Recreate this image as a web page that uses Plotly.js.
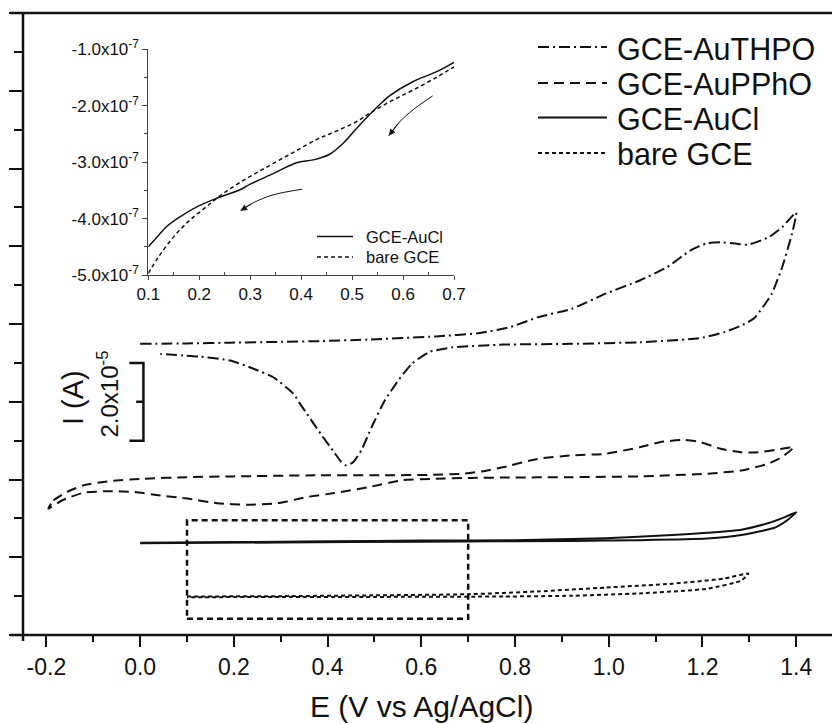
<!DOCTYPE html>
<html>
<head>
<meta charset="utf-8">
<script src="https://cdn.plot.ly/plotly-3.0.1.min.js"></script>
<style>html,body{margin:0;padding:0;background:#fff;}#chart{width:832px;height:724px;}</style>
</head>
<body>
<div id="chart"></div>
<script>
// ---- Main CV data (E in V vs Ag/AgCl, I in units of 1e-5 A, arbitrary offset) ----
const thpoE = [0, 0.1, 0.192, 0.3, 0.384, 0.486, 0.631, 0.725, 0.79, 0.848, 0.921, 0.993, 1.066, 1.124, 1.174, 1.21, 1.239, 1.27, 1.297, 1.341, 1.37, 1.4,
  1.391, 1.37, 1.348, 1.334, 1.312, 1.29, 1.247, 1.196, 1.066, 0.921, 0.776, 0.667, 0.617, 0.58, 0.551, 0.522, 0.494, 0.472, 0.455, 0.44, 0.428, 0.414, 0.385, 0.356, 0.341, 0.327, 0.284, 0.242, 0.192, 0.128, 0.043];
const thpoI = [7.49, 7.50, 7.52, 7.54, 7.56, 7.60, 7.68, 7.77, 7.92, 8.17, 8.39, 8.78, 9.12, 9.46, 9.89, 10.08, 10.10, 10.07, 10.04, 10.23, 10.49, 10.87,
  10.32, 9.46, 8.78, 8.52, 8.17, 8.0, 7.79, 7.64, 7.53, 7.49, 7.47, 7.40, 7.28, 6.98, 6.55, 6.03, 5.35, 4.75, 4.45, 4.36, 4.47, 4.70, 5.18, 5.69, 5.95, 6.21, 6.63, 6.85, 7.06, 7.16, 7.23];

const pphoE = [-0.196, -0.185, -0.156, -0.121, -0.064, 0.007, 0.1, 0.199, 0.384, 0.522, 0.619, 0.689, 0.736, 0.776, 0.848, 0.921, 0.993, 1.066, 1.109, 1.16, 1.196, 1.239, 1.283, 1.319, 1.37, 1.395,
  1.37, 1.341, 1.283, 1.21, 1.066, 0.921, 0.776, 0.704, 0.631, 0.559, 0.486, 0.414, 0.356, 0.341, 0.292, 0.228, 0.164, 0.1, 0.043, -0.014, -0.064, -0.121, -0.167, -0.196];
const pphoI = [3.25, 3.46, 3.68, 3.85, 3.96, 4.02, 4.06, 4.08, 4.11, 4.11, 4.12, 4.15, 4.22, 4.32, 4.53, 4.62, 4.66, 4.83, 4.96, 5.02, 4.96, 4.79, 4.70, 4.70, 4.79, 4.83,
  4.58, 4.41, 4.23, 4.15, 4.08, 4.06, 4.05, 4.04, 4.02, 3.98, 3.80, 3.65, 3.55, 3.51, 3.39, 3.35, 3.39, 3.51, 3.59, 3.68, 3.70, 3.66, 3.46, 3.25];

const auclE = [0, 0.2, 0.4, 0.6, 0.8, 0.993, 1.136, 1.21, 1.283, 1.341, 1.377, 1.4, 1.385, 1.356, 1.283, 1.21, 1.066, 0.921, 0.6, 0.3, 0];
const auclI = [2.37, 2.39, 2.41, 2.43, 2.44, 2.49, 2.57, 2.63, 2.71, 2.88, 3.04, 3.16, 2.99, 2.77, 2.57, 2.48, 2.44, 2.42, 2.40, 2.38, 2.36];

const bareE = [0.1, 0.3, 0.5, 0.704, 0.848, 0.993, 1.136, 1.245, 1.298, 1.283, 1.21, 1.066, 0.921, 0.776, 0.5, 0.3, 0.1];
const bareI = [0.99, 1.0, 1.02, 1.05, 1.12, 1.22, 1.32, 1.45, 1.58, 1.40, 1.19, 1.07, 1.01, 0.99, 0.98, 0.98, 0.97];

// scale bar (2.0x10^-5 A = 2 units) and zoom box
const scaleBarX = [-0.023, 0.007, 0.007, -0.023, null, -0.0085, 0.007];
const scaleBarY = [7, 7, 5, 5, null, 6, 6];
const zoomBoxE = [0.1, 0.7];
const zoomBoxI = [0.42, 2.95];

// ---- Inset data (A) ----
const insetAuclE = [0.1, 0.12, 0.136, 0.162, 0.198, 0.234, 0.28, 0.3, 0.346, 0.391, 0.424, 0.456, 0.482, 0.509, 0.535, 0.56, 0.574, 0.62, 0.665, 0.7];
const insetAuclI = [-4.5e-7, -4.3e-7, -4.14e-7, -3.97e-7, -3.78e-7, -3.64e-7, -3.49e-7, -3.39e-7, -3.20e-7, -3.01e-7, -2.96e-7, -2.86e-7, -2.67e-7, -2.40e-7, -2.15e-7, -1.93e-7, -1.82e-7, -1.57e-7, -1.40e-7, -1.23e-7];
const insetBareE = [0.1, 0.12, 0.15, 0.18, 0.21, 0.24, 0.28, 0.33, 0.384, 0.43, 0.456, 0.509, 0.535, 0.574, 0.62, 0.665, 0.7];
const insetBareI = [-4.97e-7, -4.68e-7, -4.32e-7, -4.04e-7, -3.82e-7, -3.60e-7, -3.36e-7, -3.10e-7, -2.83e-7, -2.60e-7, -2.50e-7, -2.28e-7, -2.13e-7, -1.93e-7, -1.72e-7, -1.50e-7, -1.31e-7];
const arrow1E = [0.658, 0.62, 0.594, 0.572];
const arrow1I = [-1.826e-7, -2.07e-7, -2.28e-7, -2.53e-7];
const arrow2E = [0.402, 0.345, 0.306, 0.281];
const arrow2I = [-3.48e-7, -3.58e-7, -3.72e-7, -3.86e-7];

// ---- Ticks ----
const xTickVals = [-0.2, 0, 0.2, 0.4, 0.6, 0.8, 1.0, 1.2, 1.4];
const xTickText = ['-0.2', '0.0', '0.2', '0.4', '0.6', '0.8', '1.0', '1.2', '1.4'];
const xMinorVals = [-0.1, 0.1, 0.3, 0.5, 0.7, 0.9, 1.1, 1.3];
const insetXVals = [0.1, 0.2, 0.3, 0.4, 0.5, 0.6, 0.7];
const insetXText = ['0.1', '0.2', '0.3', '0.4', '0.5', '0.6', '0.7'];
const insetXMinor = [0.15, 0.25, 0.35, 0.45, 0.55, 0.65];
const insetYVals = [-5e-7, -4e-7, -3e-7, -2e-7, -1e-7];
const insetYText = ['-5.0x10<sup>-7</sup>', '-4.0x10<sup>-7</sup>', '-3.0x10<sup>-7</sup>', '-2.0x10<sup>-7</sup>', '-1.0x10<sup>-7</sup>'];
const insetYMinor = [-4.5e-7, -3.5e-7, -2.5e-7, -1.5e-7];

const seriesNames = ['GCE-AuTHPO', 'GCE-AuPPhO', 'GCE-AuCl', 'bare GCE'];
const insetNames = ['GCE-AuCl', 'bare GCE'];

const FONT = 'Liberation Sans, Arial, Helvetica, sans-serif';
const INK = '#111';
const dashes = ['11px,4px,2px,4px', '10px,6px', 'solid', '4px,3px'];

const traces = [
  {x: thpoE, y: thpoI, name: seriesNames[0], mode: 'lines', line: {color: INK, width: 2, dash: dashes[0], shape: 'spline', smoothing: 0.5}},
  {x: pphoE, y: pphoI, name: seriesNames[1], mode: 'lines', line: {color: INK, width: 2, dash: dashes[1], shape: 'spline', smoothing: 0.5}},
  {x: auclE, y: auclI, name: seriesNames[2], mode: 'lines', line: {color: INK, width: 2, dash: dashes[2], shape: 'spline', smoothing: 0.5}},
  {x: bareE, y: bareI, name: seriesNames[3], mode: 'lines', line: {color: INK, width: 2, dash: dashes[3], shape: 'spline', smoothing: 0.5}},
  {x: scaleBarX, y: scaleBarY, mode: 'lines', connectgaps: false, line: {color: INK, width: 2.5}, hoverinfo: 'skip'},
  {x: insetAuclE, y: insetAuclI, xaxis: 'x2', yaxis: 'y2', name: insetNames[0], mode: 'lines', line: {color: INK, width: 1.5, shape: 'spline'}},
  {x: insetBareE, y: insetBareI, xaxis: 'x2', yaxis: 'y2', name: insetNames[1], mode: 'lines', line: {color: INK, width: 1.5, dash: '4px,3px', shape: 'spline'}},
  {x: arrow1E, y: arrow1I, xaxis: 'x2', yaxis: 'y2', mode: 'lines', line: {color: INK, width: 1, shape: 'spline'}, hoverinfo: 'skip'},
  {x: arrow2E, y: arrow2I, xaxis: 'x2', yaxis: 'y2', mode: 'lines', line: {color: INK, width: 1, shape: 'spline'}, hoverinfo: 'skip'}
];

// plot area geometry helpers (paper fractions)
const L = 23, T = 13, B = 89, W = 832, H = 724;
const PW = W - L, PH = H - T - B;
const px = v => (v - L) / PW;
const py = v => (H - B - v) / PH;

const shapes = [
  {type: 'line', xref: 'paper', yref: 'paper', x0: px(10), x1: 1, y0: 0, y1: 0, line: {color: INK, width: 2.5}},
  {type: 'line', xref: 'paper', yref: 'paper', x0: px(10), x1: 1, y0: 1, y1: 1, line: {color: INK, width: 2.5}},
  {type: 'line', xref: 'paper', yref: 'paper', x0: 0, x1: 0, y0: py(641), y1: 1, line: {color: INK, width: 2.5}},
  {type: 'rect', xref: 'x', yref: 'y', x0: zoomBoxE[0], x1: zoomBoxE[1], y0: zoomBoxI[0], y1: zoomBoxI[1], line: {color: INK, width: 2.5, dash: '6px,4px'}}
];

const annotations = [
  {xref: 'paper', yref: 'paper', x: px(421), y: py(706), text: 'E (V vs Ag/AgCl)', showarrow: false, xanchor: 'center', yanchor: 'middle', font: {family: FONT, size: 30, color: INK}},
  {xref: 'paper', yref: 'paper', x: px(72.5), y: py(397.5), text: 'I (A)', textangle: -90, showarrow: false, xanchor: 'center', yanchor: 'middle', font: {family: FONT, size: 29, color: INK}},
  {xref: 'paper', yref: 'paper', x: px(108), y: py(394.5), text: '2.0x10<sup>-5</sup>', textangle: -90, showarrow: false, xanchor: 'center', yanchor: 'middle', font: {family: FONT, size: 24, color: INK}},
  {xref: 'x2', yref: 'y2', axref: 'x2', ayref: 'y2', x: arrow1E[3], y: arrow1I[3], ax: arrow1E[2], ay: arrow1I[2], text: '', showarrow: true, arrowhead: 2, arrowsize: 1.3, arrowwidth: 1, arrowcolor: INK},
  {xref: 'x2', yref: 'y2', axref: 'x2', ayref: 'y2', x: arrow2E[3], y: arrow2I[3], ax: arrow2E[2], ay: arrow2I[2], text: '', showarrow: true, arrowhead: 2, arrowsize: 1.3, arrowwidth: 1, arrowcolor: INK}
];

// main legend (manual, to match sample length)
const legRowsY = [47, 83, 117.5, 153];
const legTextY = [49, 84, 118.5, 153.5];
seriesNames.forEach((n, i) => {
  shapes.push({type: 'line', xref: 'paper', yref: 'paper', x0: px(538), x1: px(607), y0: py(legRowsY[i]), y1: py(legRowsY[i]), line: {color: INK, width: 2, dash: dashes[i]}});
  annotations.push({xref: 'paper', yref: 'paper', x: px(615), y: py(legTextY[i]), text: n, showarrow: false, xanchor: 'left', yanchor: 'middle', font: {family: FONT, size: 30.5, color: INK}});
});
// inset legend
const insetLegY = [236.5, 257];
const insetDash = ['solid', '4px,3px'];
insetNames.forEach((n, i) => {
  shapes.push({type: 'line', xref: 'paper', yref: 'paper', x0: px(317), x1: px(353), y0: py(insetLegY[i]), y1: py(insetLegY[i]), line: {color: INK, width: 1.5, dash: insetDash[i]}});
  annotations.push({xref: 'paper', yref: 'paper', x: px(364), y: py(insetLegY[i]), text: n, showarrow: false, xanchor: 'left', yanchor: 'middle', font: {family: FONT, size: 16.5, color: INK}});
});

const layout = {
  width: W, height: H,
  margin: {l: L, r: 0, t: T, b: B, pad: 0},
  paper_bgcolor: '#fff', plot_bgcolor: '#fff',
  showlegend: false,
  font: {family: FONT, color: INK, size: 22},
  xaxis: {
    range: [-0.25, 1.4764], showline: false, showgrid: false, zeroline: false,
    tickmode: 'array', tickvals: xTickVals, ticktext: xTickText,
    ticks: 'outside', ticklen: 11, tickwidth: 2, tickcolor: INK,
    tickfont: {family: FONT, size: 23, color: INK},
    minor: {tickvals: xMinorVals, ticks: 'outside', ticklen: 6, tickwidth: 2, tickcolor: INK}
  },
  yaxis: {
    range: [0, 16], showline: false, showgrid: false, zeroline: false,
    tickmode: 'linear', tick0: 0, dtick: 2, showticklabels: false,
    ticks: 'outside', ticklen: 13, tickwidth: 2, tickcolor: INK,
    minor: {dtick: 1, ticks: 'outside', ticklen: 8, tickwidth: 2, tickcolor: INK}
  },
  xaxis2: {
    domain: [px(148.3), px(454)], anchor: 'y2', range: [0.1, 0.7],
    showline: true, linewidth: 1, linecolor: '#444', showgrid: false, zeroline: false,
    tickmode: 'array', tickvals: insetXVals, ticktext: insetXText,
    ticks: 'outside', ticklen: 4, tickwidth: 1, tickcolor: '#444',
    tickfont: {family: FONT, size: 17, color: INK},
    minor: {tickvals: insetXMinor, ticks: 'inside', ticklen: 3, tickwidth: 1, tickcolor: '#444'}
  },
  yaxis2: {
    domain: [py(275), py(49.3)], anchor: 'x2', range: [-5e-7, -1e-7],
    showline: true, linewidth: 1, linecolor: '#444', showgrid: false, zeroline: false,
    tickmode: 'array', tickvals: insetYVals, ticktext: insetYText,
    ticks: 'outside', ticklen: 5, tickwidth: 1, tickcolor: '#444',
    tickfont: {family: FONT, size: 17, color: INK},
    minor: {tickvals: insetYMinor, ticks: 'outside', ticklen: 3, tickwidth: 1, tickcolor: '#444'}
  },
  shapes: shapes,
  annotations: annotations
};

Plotly.newPlot('chart', traces, layout, {staticPlot: true, displayModeBar: false});
</script>
</body>
</html>
